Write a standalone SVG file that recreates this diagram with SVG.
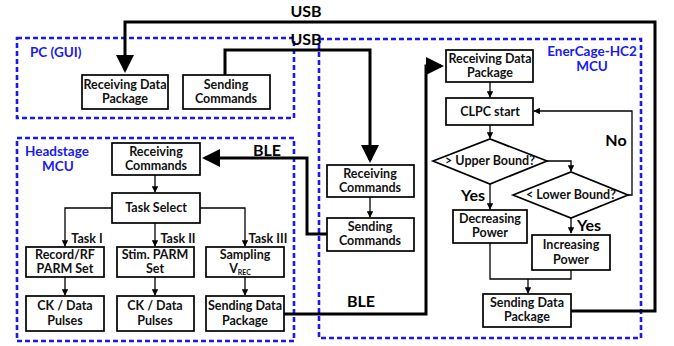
<svg xmlns="http://www.w3.org/2000/svg" width="674" height="346" viewBox="0 0 674 346">
<defs>
<style>
.box{fill:#fff;stroke:#000;stroke-width:1.7}
.grp{fill:none;stroke:#1a1aee;stroke-width:2.6;stroke-dasharray:5,3}
.t{font-family:Lato,"Liberation Sans",sans-serif;font-weight:bold;font-size:12.5px;text-anchor:middle;fill:#111}
.lbl{font-family:Lato,"Liberation Sans",sans-serif;font-weight:bold;font-size:13.5px;fill:#1a1aee}
.big{font-family:Lato,"Liberation Sans",sans-serif;font-weight:bold;font-size:16px;fill:#000}
.thick{fill:none;stroke:#000;stroke-width:3}
.thin{fill:none;stroke:#000;stroke-width:1.3}
</style>
<marker id="ah" markerWidth="6" markerHeight="6" refX="5" refY="3" orient="auto" markerUnits="strokeWidth"><path d="M0,0 L6,3 L0,6 Z" fill="#000"/></marker>
<marker id="as" markerWidth="5" markerHeight="5" refX="4.5" refY="2.5" orient="auto" markerUnits="strokeWidth"><path d="M0,0 L5,2.5 L0,5 Z" fill="#000"/></marker>
</defs>
<rect width="674" height="346" fill="#fff"/>

<g id="groups">
<rect class="grp" x="17" y="38" width="277" height="80"/>
<rect class="grp" x="17" y="138" width="277" height="203"/>
<rect class="grp" x="319" y="39" width="322" height="299"/>
<text class="lbl" x="30" y="57">PC (GUI)</text>
<text class="lbl" x="25" y="156">Headstage</text>
<text class="lbl" x="42" y="171">MCU</text>
<text class="lbl" x="592" y="56" text-anchor="middle">EnerCage-HC2</text>
<text class="lbl" x="592" y="71" text-anchor="middle">MCU</text>
</g>

<g id="connectors">
<polyline class="thick" points="571,311 655,311 655,22 125,22 125,70" marker-end="url(#ah)"/>
<polyline class="thick" points="225,75 225,50 370,50 370,160" marker-end="url(#ah)"/>
<polyline class="thick" points="327,234 307,234 307,158 205,158" marker-end="url(#ah)"/>
<polyline class="thick" points="284,314 426,314 426,66 441,66" marker-end="url(#ah)"/>
<line class="thin" x1="370" y1="197" x2="370" y2="217" marker-end="url(#as)"/>
<line class="thin" x1="155" y1="175" x2="155" y2="192" marker-end="url(#as)"/>
<polyline class="thin" points="112,208 65,208 65,246" marker-end="url(#as)"/>
<line class="thin" x1="155" y1="223" x2="155" y2="246" marker-end="url(#as)"/>
<polyline class="thin" points="200,208 245,208 245,246" marker-end="url(#as)"/>
<line class="thin" x1="65" y1="277" x2="65" y2="295" marker-end="url(#as)"/>
<line class="thin" x1="155" y1="277" x2="155" y2="295" marker-end="url(#as)"/>
<line class="thin" x1="245" y1="277" x2="245" y2="295" marker-end="url(#as)"/>
<line class="thin" x1="490" y1="82" x2="490" y2="97" marker-end="url(#as)"/>
<line class="thin" x1="490" y1="125" x2="490" y2="138" marker-end="url(#as)"/>
<polyline class="thin" points="547,161 571,161 571,171" marker-end="url(#as)"/>
<polyline class="thin" points="628,195 632,195 632,111 534,111" marker-end="url(#as)"/>
<line class="thin" x1="490" y1="184" x2="490" y2="209" marker-end="url(#as)"/>
<line class="thin" x1="571" y1="218" x2="571" y2="233" marker-end="url(#as)"/>
<polyline class="thin" points="490,243 490,279 571,279 571,270"/>
<line class="thin" x1="528" y1="279" x2="528" y2="293" marker-end="url(#as)"/>
<text class="big" x="306" y="17" text-anchor="middle">USB</text>
<text class="big" x="306" y="45" text-anchor="middle">USB</text>
<text class="big" x="267" y="156" text-anchor="middle">BLE</text>
<text class="big" x="361" y="307" text-anchor="middle">BLE</text>
<text class="big" x="473" y="201" text-anchor="middle">Yes</text>
<text class="big" x="589" y="231" text-anchor="middle">Yes</text>
<text class="big" x="616" y="146" text-anchor="middle">No</text>
<text class="t" x="87" y="243" text-anchor="middle">Task I</text>
<text class="t" x="178" y="243" text-anchor="middle">Task II</text>
<text class="t" x="268" y="243" text-anchor="middle">Task III</text>
</g>

<g id="pc-recv"><rect class="box" x="82" y="75" width="86" height="34"/><text class="t" x="125" y="89">Receiving Data</text><text class="t" x="125" y="103">Package</text></g>
<g id="pc-send"><rect class="box" x="183" y="75" width="87" height="34"/><text class="t" x="226" y="89">Sending</text><text class="t" x="226" y="103">Commands</text></g>

<g id="hs-recv"><rect class="box" x="112" y="143" width="88" height="32"/><text class="t" x="156" y="156">Receiving</text><text class="t" x="156" y="170">Commands</text></g>
<g id="hs-task"><rect class="box" x="112" y="193" width="88" height="30"/><text class="t" x="156" y="212">Task Select</text></g>
<g id="hs-rec"><rect class="box" x="26" y="247" width="78" height="30"/><text class="t" x="65" y="259">Record/RF</text><text class="t" x="65" y="273">PARM Set</text></g>
<g id="hs-stim"><rect class="box" x="117" y="247" width="77" height="30"/><text class="t" x="155" y="259">Stim. PARM</text><text class="t" x="155" y="273">Set</text></g>
<g id="hs-samp"><rect class="box" x="206" y="247" width="78" height="30"/><text class="t" x="245" y="259">Sampling</text><text class="t" x="240" y="273">V<tspan font-size="7" dy="2">REC</tspan></text></g>
<g id="hs-ck1"><rect class="box" x="26" y="296" width="78" height="35"/><text class="t" x="65" y="310">CK / Data</text><text class="t" x="65" y="325">Pulses</text></g>
<g id="hs-ck2"><rect class="box" x="117" y="296" width="77" height="35"/><text class="t" x="155" y="310">CK / Data</text><text class="t" x="155" y="325">Pulses</text></g>
<g id="hs-send"><rect class="box" x="206" y="296" width="78" height="35"/><text class="t" x="245" y="310">Sending Data</text><text class="t" x="245" y="325">Package</text></g>

<g id="mid-recv"><rect class="box" x="327" y="165" width="87" height="32"/><text class="t" x="370" y="178">Receiving</text><text class="t" x="370" y="192">Commands</text></g>
<g id="mid-send"><rect class="box" x="327" y="218" width="87" height="33"/><text class="t" x="370" y="231">Sending</text><text class="t" x="370" y="245">Commands</text></g>

<g id="ec-recv"><rect class="box" x="446" y="50" width="87" height="32"/><text class="t" x="490" y="63">Receiving Data</text><text class="t" x="490" y="77">Package</text></g>
<g id="ec-clpc"><rect class="box" x="446" y="98" width="87" height="27"/><text class="t" x="490" y="116">CLPC start</text></g>
<g id="ec-upper"><polygon class="box" points="433,161 490,139 547,161 490,184"/><text class="t" x="490" y="165">&gt; Upper Bound?</text></g>
<g id="ec-lower"><polygon class="box" points="513,195 571,172 628,195 571,218"/><text class="t" x="571" y="199">&lt; Lower Bound?</text></g>
<g id="ec-dec"><rect class="box" x="453" y="210" width="74" height="33"/><text class="t" x="490" y="223">Decreasing</text><text class="t" x="490" y="237">Power</text></g>
<g id="ec-inc"><rect class="box" x="532" y="235" width="78" height="35"/><text class="t" x="571" y="249">Increasing</text><text class="t" x="571" y="264">Power</text></g>
<g id="ec-send"><rect class="box" x="483" y="294" width="88" height="33"/><text class="t" x="527" y="307">Sending Data</text><text class="t" x="527" y="321">Package</text></g>
</svg>
